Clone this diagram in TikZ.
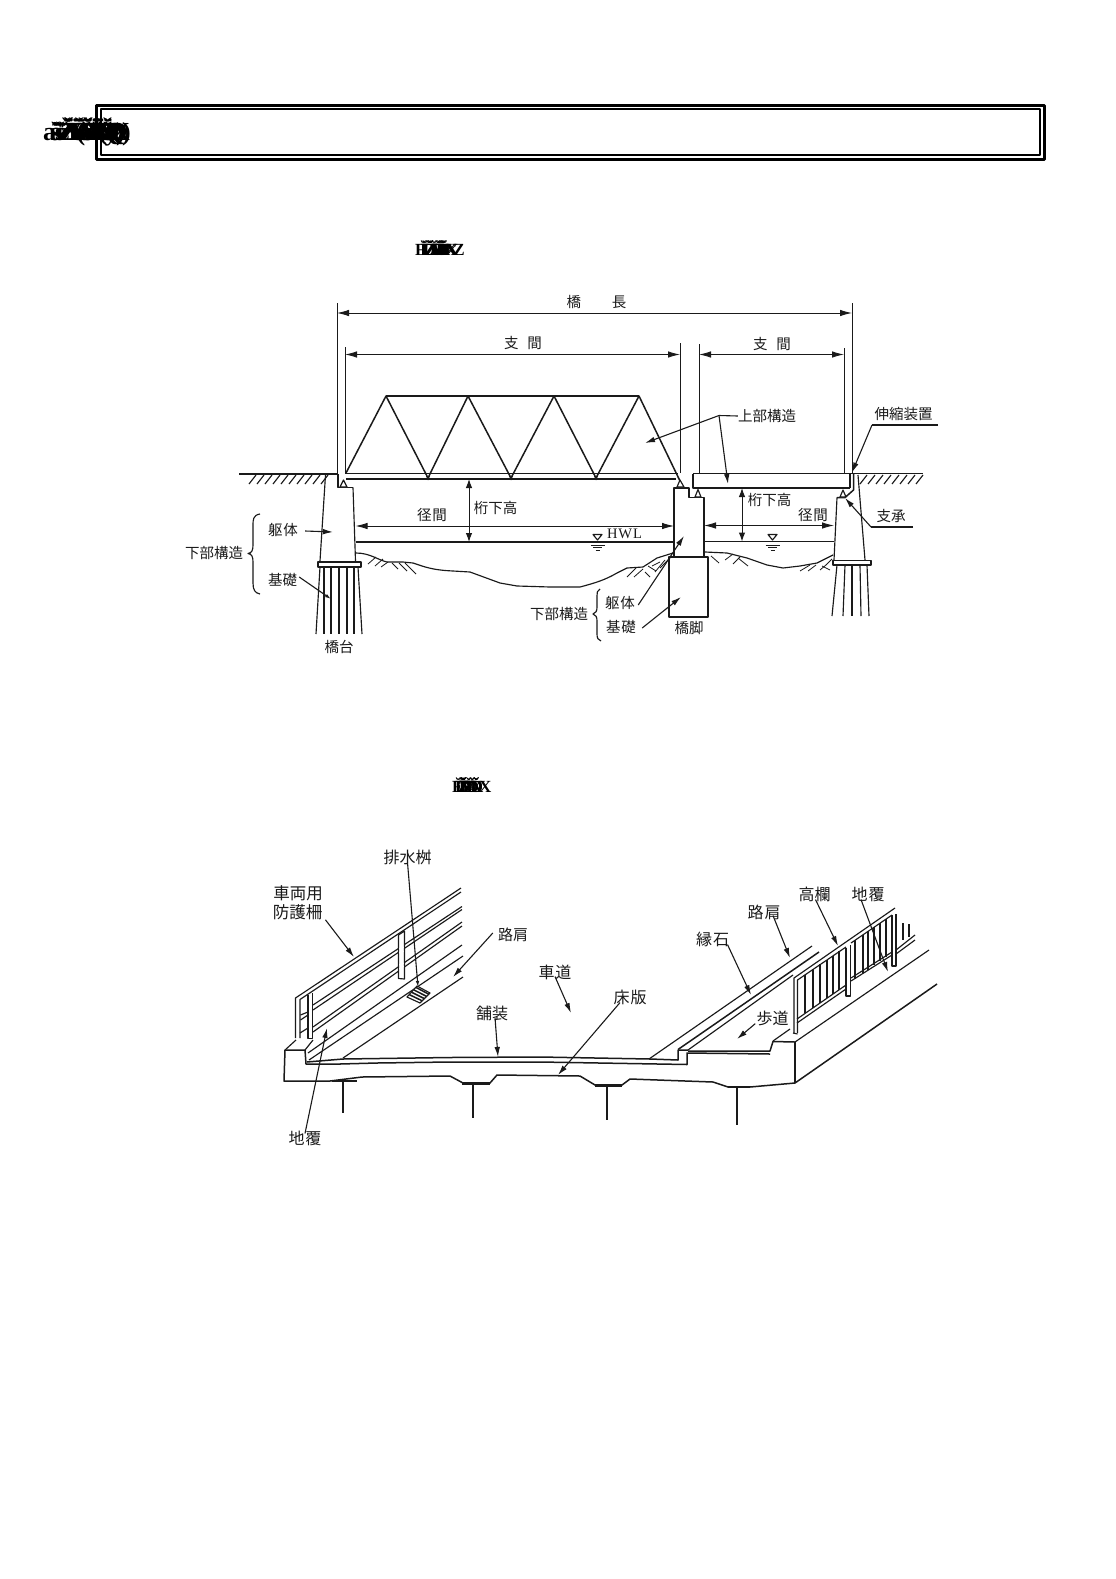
\documentclass[tikz,border=0pt]{standalone}
\usepackage{fontspec}
\setmainfont{Noto Sans CJK JP}
\newfontfamily\serifen{Liberation Serif}
\newfontfamily\garble[LetterSpace=-22]{Liberation Serif}
\usetikzlibrary{arrows.meta,calc}
\definecolor{ink}{HTML}{1A1A1A}
\tikzset{
  lab/.style={inner sep=0pt,text=ink,font=\fontsize{14.5}{15}\selectfont},
  labb/.style={inner sep=0pt,text=ink,font=\fontsize{16}{17}\selectfont},
  ln/.style={draw=ink,line width=1.15pt},
  hv/.style={draw=ink,line width=1.5pt},
  thin line/.style={draw=ink,line width=.8pt},
  dim/.style={draw=ink,line width=.9pt,{Latex[length=12pt,width=6.5pt]}-{Latex[length=12pt,width=6.5pt]}},
  dimv/.style={draw=ink,line width=1pt,{Latex[length=9pt,width=6.5pt]}-{Latex[length=9pt,width=6.5pt]}},
  lead/.style={draw=ink,line width=1.1pt,-{Latex[length=10pt,width=5.5pt]}},
  leads/.style={draw=ink,line width=1.1pt,-{Latex[length=6pt,width=3.5pt]}},
  leadp/.style={draw=ink,line width=1.1pt},
  gb/.style={inner sep=0pt,text=black},
}
\begin{document}
\begin{tikzpicture}[x=1pt,y=-1pt,line join=round]
\useasboundingbox (0,0) rectangle (1116,1579);
\fill[white] (0,0) rectangle (1116,1579);
% ---------- title frame
\draw[line width=3pt,black] (96,105) rectangle (1044.5,159.5);
\draw[line width=2pt,black] (101,109) rectangle (1040,155);
\node[gb,anchor=west] (ta) at (43,132) {\garble\bfseries\fontsize{26}{26}\selectfont
  \rlap{aš‹žŸ(ä}\hspace{7pt}\rlap{ãŽŸ¥ňŸX}\hspace{5pt}\rlap{šŽ¥ŸXy}\hspace{5pt}\rlap{ŽŠžŸQ}\hspace{7pt}\rlap{ŸŠ¥ňQ}\hspace{7pt}\rlap{ŽY(ž}\hspace{7pt}\rlap{ŠŸX)}\hspace{6pt}ŸŠD)};
\node[gb,anchor=west] (ca) at (415,248) {\garble\bfseries\fontsize{17}{17}\selectfont
  \rlap{FĬŽĎ}\hspace{5pt}\rlap{ĬĎHĬ}\hspace{5pt}\rlap{Ž¥ĎX}\hspace{6pt}\rlap{ĬŽ4}\hspace{5pt}ĎXZ};
\node[gb,anchor=west] (cb) at (452,785) {\garble\bfseries\fontsize{17}{17}\selectfont
  \rlap{FĬ¥Ď}\hspace{3pt}\rlap{ĬŽ¥X}\hspace{3pt}\rlap{Ž¥ĎX}\hspace{2pt}ĬŽĎ};
% ---------- upper figure: ground
\draw[hv] (239,474) -- (338,474);
\draw[hv] (852,473.5) -- (923,473.5);
\foreach \x in {256,264,...,328}{\draw[ln] (\x,475) -- (\x-7,484);}
\foreach \x in {867,875,...,923}{\draw[ln] (\x,475) -- (\x-7,484);}
% left abutment
\draw[ln] (325.5,475) -- (320,561);
\draw[hv] (338,474) -- (338,487.5) -- (353,487.5);
\draw[ln] (353,487.5) -- (355.5,561);
\draw[ln,fill=white] (340,487) -- (343.5,480) -- (347,487) -- cycle;
\draw[hv,fill=white] (318,562) rectangle (361,567);
\foreach \a/\b in {320/316,324/324,331/331,339/339,347/347,354/354,358/362}{\draw[ln] (\a,567) -- (\b,634);}
% truss
\draw[hv] (346,473.5) -- (678,473.5);
\draw[hv] (346,479) -- (676,479);
\draw[hv] (386,396) -- (639,396);
\draw[hv] (346,473) -- (386,396) -- (428,478) -- (468,396) -- (511,478) -- (554,396) -- (596,478) -- (639,396) -- (680,481);
\foreach \x in {428,511,596}{\fill[ink] (\x-2,476) -- (\x+2,476) -- (\x,480.5) -- cycle;}
% right girder
\draw[hv] (693,473.5) -- (852,473.5);
\draw[hv] (693,474) -- (693,488) -- (850,488);
\draw[hv] (850,474) -- (850,488);
\draw[hv] (853.5,474) -- (853.5,490) -- (845,497.5) -- (837,497.5);
% right abutment
\draw[ln] (837,497.5) -- (834,560);
\draw[ln] (858,475) -- (865,560);
\draw[ln,fill=white] (840,497) -- (843,490) -- (846,497) -- cycle;
\draw[hv,fill=white] (833,560.5) rectangle (871,565);
\foreach \a/\b in {837/832,845/843,852/852,860/861,867/869}{\draw[ln] (\a,565) -- (\b,616);}
% pier
\draw[hv] (674,557) -- (674,488) -- (689,488) -- (689,497.5) -- (704,497.5) -- (704,557);
\draw[ln,fill=white] (677,487) -- (680,480) -- (684,487) -- cycle;
\draw[ln,fill=white] (695,497) -- (698,489.5) -- (701,497) -- cycle;
\draw[hv] (669,557) rectangle (708,617);
% water + river bed
\draw[ln] (355.5,542) -- (674,542);
\draw[ln] (704,541.5) -- (834,541.5);
\draw[ln] (356,553) .. controls (370,553) and (378,560) .. (387,562) -- (403,562) -- (413,563)
  .. controls (425,567) and (432,570) .. (453,571) -- (470,572) -- (500,583) -- (517,586) -- (550,587) -- (580,587)
  .. controls (595,583) and (605,580) .. (617,573) -- (627,568) -- (643,567) -- (657,558) -- (673,553);
\draw[ln] (705,552) -- (727,553) -- (747,558) -- (767,565) -- (783,568) -- (800,566) -- (817,563) -- (833,555);
\foreach \a/\b/\c/\d in {368/564/376/557,375/566/383/559,381/567/388/562,392/563/398/569,399/563/407/571,405/563/416/574,
 627/577/636/568,634/577/643/569,645/572/650/577,648/566/656/571,652/566/660/562,655/572/665/560,660/568/672/556,
 711/556/719/563,725/560/733/554,733/564/740/557,738/558/748/566,
 800/571/810/565,808/571/816/565,820/570/826/565,826/565/832/559,822/566/830/570}{\draw[thin line] (\a,\b) -- (\c,\d);}
% water level symbols
\foreach \x in {597.5,772.5}{
 \draw[ln,fill=white] (\x-4.5,534.5) -- (\x+4.5,534.5) -- (\x,540) -- cycle;
 \draw[thin line] (\x-7,545) -- (\x+7,545);
 \draw[thin line] (\x-4.5,547.5) -- (\x+4.5,547.5);
 \draw[thin line] (\x-2,550) -- (\x+2,550);
}
% extension lines
\foreach \n/\x/\t/\b in {a/337/303/474,b/345/347/474,c/680/343/473,d/699/344/473,e/844/348/473,f/852/303/473}{
 \coordinate (\n t) at (\x,\t); \coordinate (\n b) at (\x,\b); \draw[thin line] (\n t) -- (\n b);
}
\coordinate (d1a) at (337,313); \coordinate (d1b) at (852,313);
\coordinate (d2a) at (345,354.5); \coordinate (d2b) at (680,354.5);
\coordinate (d3a) at (699,354.5); \coordinate (d3b) at (844,354.5);
\draw[dim] (d1a) -- (d1b);
\draw[dim] (d2a) -- (d2b);
\draw[dim] (d3a) -- (d3b);
\coordinate (s1a) at (355.5,526); \coordinate (s1b) at (674,526);
\coordinate (s2a) at (704,525.5); \coordinate (s2b) at (834,525.5);
\draw[dim] (s1a) -- (s1b);
\draw[dim] (s2a) -- (s2b);
\coordinate (h1a) at (469,479); \coordinate (h1b) at (469,542);
\coordinate (h2a) at (742,488); \coordinate (h2b) at (742,541.5);
\draw[dimv] (h1a) -- (h1b);
\draw[dimv] (h2a) -- (h2b);
% labels upper
\node[lab] (l1) at (596.5,302) {橋\hspace{31pt}長};
\node[lab] (l2) at (523,343) {支\hspace{9pt}間};
\node[lab] (l3) at (772,344) {支\hspace{9pt}間};
\node[lab] (l4) at (767,416) {上部構造};
\node[lab] (l5) at (903.5,414) {伸縮装置};
\node[lab] (l6) at (495.5,507.5) {桁下高};
\node[lab] (l7) at (769.5,500) {桁下高};
\node[lab] (l8) at (432,515) {径\hspace{1pt}間};
\node[lab] (l9) at (813,515) {径\hspace{1pt}間};
\node[lab,font=\serifen\fontsize{14.5}{15}\selectfont] (l10) at (624.5,534) {H\hspace{1pt}W\hspace{1pt}L};
\node[lab] (l11) at (891,516) {支承};
\node[lab] (l12) at (283,530) {躯\hspace{1pt}体};
\node[lab] (l13) at (282.5,580) {基礎};
\node[lab] (l14) at (214,553) {下部構造};
\node[lab] (l15) at (339,647) {橋台};
\node[lab] (l16) at (620,603) {躯\hspace{1pt}体};
\node[lab] (l17) at (621,627) {基\hspace{1pt}礎};
\node[lab] (l18) at (559,614) {下部構造};
\node[lab] (l19) at (689,628) {橋脚};
% leaders upper
\coordinate (j1) at (719,415.5); \coordinate (j1a) at (645,443); \coordinate (j1b) at (728,484);
\draw[leadp] (l4.west) -- (j1);
\draw[lead] (j1) -- (j1a);
\draw[lead] (j1) -- (j1b);
\coordinate (j2) at (872,425); \coordinate (j2e) at (938,425); \coordinate (j2t) at (852,472.5);
\draw[leadp] (j2e) -- (j2);
\draw[lead] (j2) -- (j2t);
\coordinate (j3) at (871,527); \coordinate (j3e) at (913,527); \coordinate (j3t) at (845,498);
\draw[leadp] (j3e) -- (j3);
\draw[lead] (j3) -- (j3t);
\coordinate (e12) at (333,532); \draw[lead] ([xshift=7pt,yshift=-1pt]l12.east) -- (e12);
\coordinate (e13) at (331,599); \draw[leads] ([xshift=2pt,yshift=3pt]l13.east) -- (e13);
\coordinate (e16) at (684,536); \draw[lead] ([xshift=3pt,yshift=-2pt]l16.east) -- (e16);
\coordinate (e17) at (681,597); \draw[lead] ([xshift=6pt,yshift=-1pt]l17.east) -- (e17);
% braces
\draw[ln] (260,514) .. controls (253,515) and (253,520) .. (253,525) -- (253,545) .. controls (253,550) and (252,553) .. (248,553.5)
  .. controls (252,554) and (253,557) .. (253,562) -- (253,583) .. controls (253,590) and (255,593) .. (260,594);
\draw[ln] (600,589) .. controls (597,590) and (597,593) .. (597,596) -- (597,607) .. controls (597,611) and (596,613) .. (593,614)
  .. controls (596,615) and (597,617) .. (597,621) -- (597,634) .. controls (597,638) and (598,640) .. (601,641);
% ---------- lower figure: deck section
\draw[hv] (340,1064) -- (306,1064) -- (305,1050) -- (285,1050) -- (284,1081) -- (330,1081);
\draw[hv] (307,1062) -- (343,1059) -- (450,1057.5) -- (540,1057) -- (650,1059) -- (678,1060) -- (678,1050) -- (688,1050);
\draw[hv] (340,1064) -- (377,1063) -- (450,1062) -- (540,1062) -- (687,1064.5) -- (687,1053) -- (770,1054);
\draw[hv] (688,1051) -- (770,1051) -- (773,1041.5) -- (795,1042);
\draw[ln] (795,1042) -- (795,1083);
\draw[hv] (330,1081) -- (362,1077) -- (450,1076) -- (463,1083) -- (490,1083) -- (497,1075) -- (580,1076)
  -- (595,1085) -- (622,1085) -- (630,1079) -- (713,1082) -- (728,1087) -- (750,1087) -- (795,1083) -- (937,984);
\draw[ln] (795,1042) -- (929,950);
\foreach \a/\b/\y in {332/357/1081,462/490/1083.5,595/622/1085.5,728/750/1087}{\draw[draw=ink,line width=2.6pt] (\a,\y) -- (\b,\y);}
\foreach \x/\a/\b in {343/1082/1113,473/1083/1118,607/1086/1120,737/1087/1125}{\draw[draw=ink,line width=2.2pt] (\x,\a) -- (\x,\b);}
\draw[ln] (649,1059) -- (812,946);
\draw[hv] (678,1049.5) -- (819,952);
\draw[ln] (688,1050) -- (793,975);
\draw[ln] (773,1041) -- (790,1029);
% left roadside lines
\draw[ln] (308,1053) -- (462,945);
\draw[ln] (309,1060) -- (463,956);
\draw[ln] (343,1058) -- (463,977);
\draw[ln] (285,1050) -- (296,1040);
\draw[ln] (305,1050) -- (313,1040);
% left rail
\draw[ln] (295.5,1038) -- (295.5,998) -- (461,888);
\draw[ln] (300,1038) -- (300,999.5) -- (461,892);
\draw[ln] (313,1005) -- (462,906.5);
\draw[ln] (313,1010) -- (462,909.5);
\draw[ln] (313,1027) -- (462,922);
\draw[ln] (313,1032) -- (462,926);
\draw[ln] (300.5,1015) -- (308,1012);
\draw[ln] (300.5,1020) -- (308,1015);
\draw[ln] (300,1033) -- (308,1028);
\draw[ln] (308,995) -- (308,1038.5) -- (312.5,1038.5) -- (312.5,993);
\draw[ln,fill=white] (398.5,935) -- (398.5,978.5) -- (404.5,979) -- (404.5,931) -- cycle;
\foreach \y/\z in {948/946,952/950,964/962,968/965}{\draw[draw=white,line width=1.6pt] (399.5,\y+1) -- (403.5,\z+1);}
% grate
\draw[ln,fill=white] (407,997) -- (420,1003) -- (430,993) -- (417,986) -- cycle;
\foreach \t in {.22,.44,.66,.88}{\draw[line width=1.5pt,ink] ($(407,997)!\t!(417,986)$) -- ($(420,1003)!\t!(430,993)$);}
% right rail
\draw[ln] (794,1033) -- (794,978) -- (895,908);
\draw[ln] (797.5,1033) -- (797.5,980) -- (846,947);
\draw[ln] (851,943) -- (892,915);
\foreach \x in {805,813,820,827,833,839,855,863,868,874,880,886}{
  \pgfmathsetmacro{\ya}{980+(\x-797.5)*(-0.69)}
  \pgfmathsetmacro{\yb}{1019+(\x-797)*(-0.695)}
  \draw[ln] (\x,\ya) -- (\x,\yb);
}
\draw[ln] (797,1019) -- (846,985);
\draw[ln] (797,1023) -- (846,989);
\draw[ln] (851,978) -- (892,952);
\draw[ln] (851,981) -- (892,955);
\draw[ln] (896,950) -- (915,935);
\draw[ln] (896,954) -- (915,940);
\draw[ln] (846,948) -- (846,996) -- (850.5,996) -- (850.5,945);
\draw[ln] (892,915) -- (892,966) -- (896,966) -- (896,914);
\draw[ln] (793,1033) -- (797.5,1034);
\draw[ln] (903,923) -- (903,940);
\draw[ln] (909,924) -- (909,937);
% labels lower
\node[labb] (m1) at (407.5,857) {排水桝};
\node[labb,font=\fontsize{16.5}{17}\selectfont] (m2) at (298,893) {車両用};
\node[labb,font=\fontsize{16.5}{17}\selectfont] (m3) at (297.5,912) {防護柵};
\node[labb,font=\fontsize{15}{16}\selectfont] (m4) at (513,935) {路肩};
\node[labb] (m5) at (555,972) {車\hspace{1pt}道};
\node[labb] (m6) at (492,1013) {舗装};
\node[labb] (m7) at (630,997) {床\hspace{1pt}版};
\node[labb] (m8) at (712.5,939) {縁\hspace{1pt}石};
\node[labb] (m9) at (764,912) {路\hspace{1pt}肩};
\node[labb] (m10) at (814.5,894) {高欄};
\node[labb] (m11) at (868,894) {地\hspace{1pt}覆};
\node[labb] (m12) at (772.5,1018) {歩道};
\node[labb] (m13) at (305,1138) {地\hspace{1pt}覆};
% leaders lower
\coordinate (q1) at (418,987); \draw[leads] ([xshift=0pt,yshift=2pt]m1.south) -- (q1);
\coordinate (q3) at (354,957); \draw[lead] ([xshift=3pt,yshift=0pt]m3.south east) -- (q3);
\coordinate (q4) at (453,977); \draw[lead] ([xshift=-5pt,yshift=2pt]m4.west) -- (q4);
\coordinate (q5) at (571,1013); \draw[lead] ([yshift=3pt]m5.south) -- (q5);
\coordinate (q6) at (498,1057); \draw[lead] ([xshift=3pt,yshift=3pt]m6.south) -- (q6);
\coordinate (q7) at (558,1075); \draw[lead] ([xshift=-10pt,yshift=2pt]m7.south) -- (q7);
\coordinate (q8) at (751,995); \draw[lead] ([xshift=15pt,yshift=2pt]m8.south) -- (q8);
\coordinate (q9) at (790,958); \draw[lead] ([xshift=9pt,yshift=4pt]m9.south) -- (q9);
\coordinate (q10) at (838,946); \draw[lead] ([xshift=1pt,yshift=2pt]m10.south) -- (q10);
\coordinate (q11) at (888,972); \draw[lead] ([xshift=-7pt,yshift=2pt]m11.south) -- (q11);
\coordinate (q12) at (737,1039); \draw[lead] ([xshift=-1pt,yshift=2pt]m12.south west) -- (q12);
\coordinate (q13) at (327,1028); \draw[lead] ([yshift=-3pt]m13.north) -- (q13);
\end{tikzpicture}
\end{document}
